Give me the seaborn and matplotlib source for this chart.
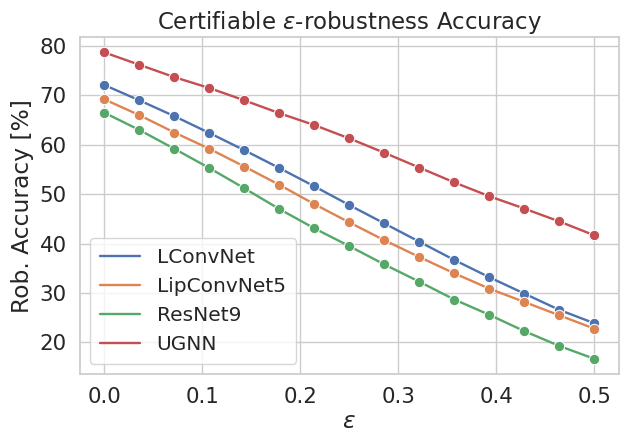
import numpy as np
import pandas as pd
import matplotlib
matplotlib.use("Agg")
import matplotlib.pyplot as plt
import seaborn as sns

# epsilon values (15 steps from 0 to 0.5)
eps = [0.0, 0.0357, 0.0714, 0.1071, 0.1429, 0.1786, 0.2143, 0.25,
       0.2857, 0.3214, 0.3571, 0.3929, 0.4286, 0.4643, 0.5]

lconvnet = [72.1, 69.0, 65.8, 62.4, 58.9, 55.3, 51.6, 47.8, 44.1, 40.4, 36.7, 33.2, 29.9, 26.6, 23.9]
lipconvnet5 = [69.2, 66.0, 62.5, 59.2, 55.6, 51.9, 48.0, 44.3, 40.7, 37.3, 34.0, 30.9, 28.2, 25.5, 22.8]
resnet9 = [66.5, 63.0, 59.2, 55.3, 51.2, 47.0, 43.1, 39.5, 35.8, 32.3, 28.7, 25.6, 22.3, 19.3, 16.7]
ugnn = [78.7, 76.2, 73.7, 71.5, 69.0, 66.4, 64.0, 61.3, 58.4, 55.4, 52.4, 49.6, 47.1, 44.5, 41.7]

models = ["LConvNet", "LipConvNet5", "ResNet9", "UGNN"]
values = [lconvnet, lipconvnet5, resnet9, ugnn]

rows = []
for name, vals in zip(models, values):
    for e, v in zip(eps, vals):
        rows.append({"eps": e, "acc": v, "model": name})
df = pd.DataFrame(rows)

sns.set_theme(style="whitegrid", font_scale=1.4)

fig, ax = plt.subplots(figsize=(6.25, 4.32), dpi=100)
sns.lineplot(data=df, x="eps", y="acc", hue="model", marker="o", markersize=7.5,
             linewidth=1.7, ax=ax)
ax.set_xlabel(r"$\epsilon$", labelpad=2)
ax.set_ylabel("Rob. Accuracy [%]")
ax.set_title(r"Certifiable $\epsilon$-robustness Accuracy", fontsize=16.5)
ax.set_xticks([0.0, 0.1, 0.2, 0.3, 0.4, 0.5])
leg = ax.legend(title=None, loc="lower left", fontsize=14.5, handletextpad=0.8,
                borderpad=0.5)
for h in leg.legend_handles:
    h.set_marker("")
plt.subplots_adjust(left=0.128, right=0.99, top=0.914, bottom=0.134)
plt.savefig("out.png", dpi=100)
